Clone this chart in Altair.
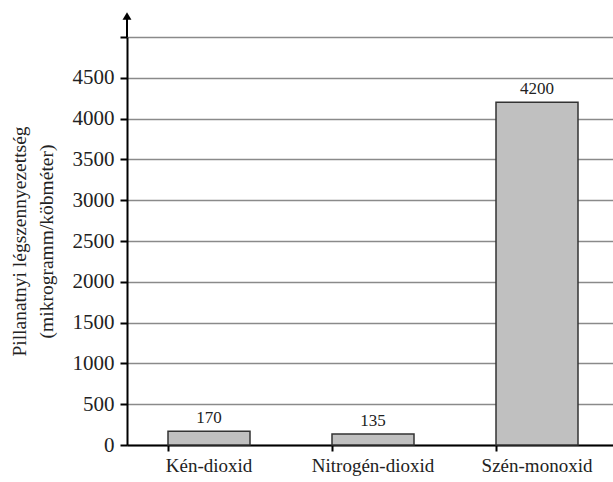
import altair as alt
import pandas as pd

categories = ["Kén-dioxid", "Nitrogén-dioxid", "Szén-monoxid"]
values = [170, 135, 4200]
y_ticks = [0, 500, 1000, 1500, 2000, 2500, 3000, 3500, 4000, 4500, 5000]

df = pd.DataFrame({"cat": categories, "val": values})

FONT = "Liberation Serif"

x_enc = alt.X(
    "cat:N",
    sort=categories,
    title=None,
    scale=alt.Scale(range=[0, 492], paddingInner=0.5, paddingOuter=0.25),
    axis=alt.Axis(
        labelAngle=0,
        labelFont=FONT,
        labelFontSize=19,
        labelColor="#222",
        labelPadding=5,
        domainColor="#000",
        domainWidth=2,
        tickColor="#000",
        tickWidth=2,
        tickSize=6,
        bandPosition=0,
        grid=False,
    ),
)

y_enc = alt.Y(
    "val:Q",
    title=["Pillanatnyi légszennyezettség", "(mikrogramm/köbméter)"],
    scale=alt.Scale(domain=[0, 5000], nice=False),
    axis=alt.Axis(
        values=y_ticks,
        labelExpr="datum.value == 5000 ? '' : datum.label",
        format="d",
        labelFont=FONT,
        labelFontSize=21,
        labelColor="#222",
        labelPadding=6,
        domainColor="#000",
        domainWidth=2,
        tickColor="#000",
        tickWidth=2,
        tickSize=7,
        grid=True,
        gridColor="#8a8a8a",
        gridWidth=1.5,
        titleFont=FONT,
        titleFontSize=19.5,
        titleFontWeight="normal",
        titleColor="#222",
        titlePadding=16,
        titleLineHeight=27,
    ),
)

bars = alt.Chart(df).mark_bar(
    fill="#c0c0c0", stroke="#333", strokeWidth=1.5
).encode(x=x_enc, y=y_enc)

labels = alt.Chart(df).mark_text(
    font=FONT, fontSize=17, color="#222", baseline="bottom", dy=-4
).encode(x=alt.X("cat:N", sort=categories), y="val:Q", text="val:Q")

axis_ext = alt.Chart(df).mark_rule(color="#000", strokeWidth=2).encode(
    x=alt.value(0), y=alt.value(-20), y2=alt.value(0)
)

arrow = alt.Chart(pd.DataFrame({"a": [0]})).mark_point(
    shape="triangle-up", filled=True, color="#000", size=80, opacity=1
).encode(x=alt.value(0), y=alt.value(-21))

chart = alt.layer(bars, labels, axis_ext, arrow).properties(
    width=486,
    height=408,
    autosize=alt.AutoSizeParams(type="none"),
    padding={"left": 127, "top": 37, "right": 0, "bottom": 37},
).configure_view(stroke=None).configure(background="white")

chart.save("out.html", embed_options={"renderer": "svg", "actions": False})
